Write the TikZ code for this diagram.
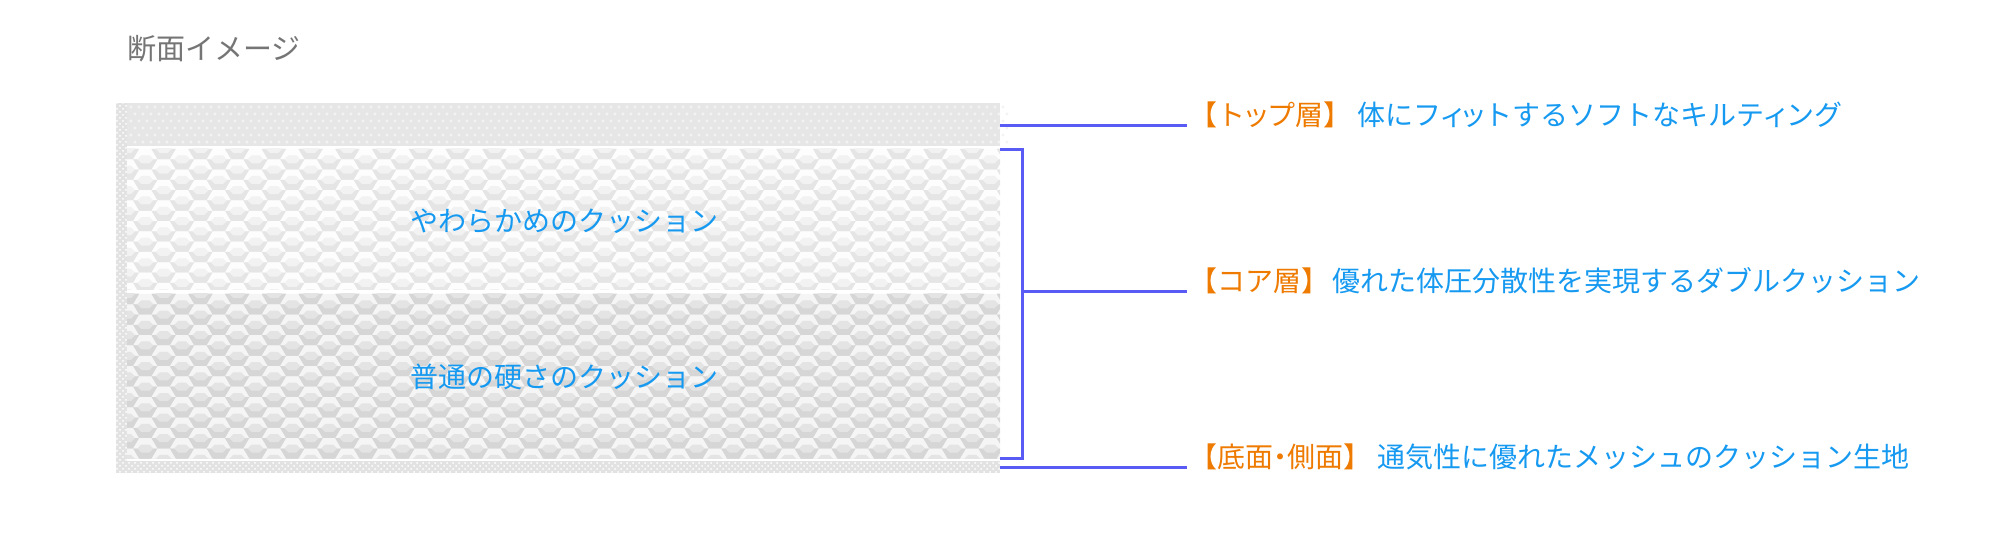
\documentclass[tikz,border=0pt]{standalone}
\usepackage{fontspec}
\newfontfamily\jp{Noto Sans CJK JP}
\newcommand\narrowkana[1]{{\addfontfeature{RawFeature=+palt}#1}}
\usetikzlibrary{positioning,patterns}

\definecolor{leadblue}{HTML}{5A5AF5}
\definecolor{tagorange}{HTML}{EE7A00}
\definecolor{noteblue}{HTML}{1699F0}
\definecolor{titlegray}{HTML}{757575}
\definecolor{topgray}{HTML}{E6E6E6}
\definecolor{topdot}{HTML}{F3F3F3}
\definecolor{meshgray}{HTML}{E2E2E2}
\definecolor{softhi}{HTML}{FDFDFD}
\definecolor{softlo}{HTML}{E5E5E5}
\definecolor{softmid}{HTML}{F2F2F2}
\definecolor{hardhi}{HTML}{F5F5F5}
\definecolor{hardlo}{HTML}{D6D6D6}
\definecolor{hardmid}{HTML}{E4E4E4}

% one pyramid cell of the quilting: x, y, light, dark, middle
\newcommand\quiltcell[5]{%
  \fill[#3] (#1-12.25,#2) -- (#1-6.12,#2-10.3) -- (#1+6.12,#2-10.3) -- (#1+12.25,#2) -- cycle;
  \fill[#4] (#1-12.25,#2) -- (#1-6.12,#2+10.3) -- (#1+6.12,#2+10.3) -- (#1+12.25,#2) -- cycle;
  \fill[#5] (#1-8,#2) -- (#1-4,#2-4) -- (#1+4,#2-4) -- (#1+8,#2)
    -- (#1+4,#2+4) -- (#1-4,#2+4) -- cycle;}

\begin{document}
\begin{tikzpicture}[x=0.5pt,y=-0.5pt,
    leader/.style={draw=leadblue,line width=1.5pt},
    note/.style={inner sep=0pt,text=noteblue,font=\jp\fontsize{14pt}{16pt}\selectfont},
    layertext/.style={inner sep=0pt,text=noteblue,font=\jp\fontsize{14pt}{16pt}\selectfont},
    titletext/.style={inner sep=0pt,text=titlegray,font=\jp\fontsize{14.5pt}{17pt}\selectfont}]
    \useasboundingbox (0,0) rectangle (2000,550);

    \node[titletext,anchor=west] (title) at (127,49) {断面イメージ};

    % mesh side and bottom
    \fill[meshgray] (116,103) rectangle (127,473);
    \fill[meshgray] (127,461) rectangle (1000,473);
    \fill[pattern=crosshatch dots,pattern color=white] (116,103) rectangle (127,473);
    \fill[pattern=crosshatch dots,pattern color=white] (127,461) rectangle (1000,473);

    % top quilting
    \fill[topgray] (127,103) rectangle (1000,146);
    \foreach \r in {0,...,5}
      \foreach \c in {0,...,109}{
        \pgfmathsetmacro\dx{131+\c*8+mod(\r,2)*4}
        \fill[topdot] (\dx,{107+\r*7}) circle[radius=1.6];
      }

    % soft core
    \begin{scope}
      \clip (127,149) rectangle (1000,290);
      \fill[softmid] (127,149) rectangle (1000,290);
      \foreach \i in {0,...,48}{
        \pgfmathsetmacro\cx{127+\i*18.375}
        \pgfmathsetmacro\cy{149+mod(\i,2)*10.3}
        \foreach \j in {0,...,7}
          \quiltcell{\cx}{\cy+\j*20.6}{softhi}{softlo}{softmid};
      }
    \end{scope}

    % firm core
    \begin{scope}
      \clip (127,294) rectangle (1000,458);
      \fill[hardmid] (127,294) rectangle (1000,458);
      \foreach \i in {0,...,48}{
        \pgfmathsetmacro\cx{127+\i*18.375}
        \pgfmathsetmacro\cy{294+mod(\i,2)*10.3}
        \foreach \j in {0,...,8}
          \quiltcell{\cx}{\cy+\j*20.6}{hardhi}{hardlo}{hardmid};
      }
    \end{scope}

    \node[layertext] (soft) at (564,221) {やわらかめのクッション};
    \node[layertext] (firm) at (564,377) {普通の硬さのクッション};

    % leaders
    \coordinate (topR) at (1000,126);
    \coordinate (topE) at (1187,126);
    \coordinate (coreT) at (1000,150);
    \coordinate (coreB) at (1000,458);
    \coordinate (brk) at (1022,292);
    \coordinate (coreE) at (1187,292);
    \coordinate (baseR) at (1000,467);
    \coordinate (baseE) at (1187,467);

    \node[note,base right=1pt of topE] (toplbl)
      {{\color{tagorange}【ト\narrowkana{ッ}プ層】}\hspace{0.2em}体にフ\narrowkana{ィ}\narrowkana{ッ}トするソフトなキルテ\narrowkana{ィ}ング};
    \node[note,base right=1pt of coreE] (corelbl)
      {{\color{tagorange}【コア層】}\hspace{0.1em}優れた体圧分散性を実現するダブルクッション};
    \node[note,base right=1pt of baseE] (baselbl)
      {{\color{tagorange}【底面\narrowkana{・}側面】}\hspace{0.2em}通気性に優れたメッシュのクッション生地};

    \draw[leader] (topR) -- (topE);
    \draw[leader] (coreT) -| (brk) |- (coreB);
    \draw[leader] (brk) -- (coreE);
    \draw[leader] (baseR) -- (baseE);
\end{tikzpicture}
\end{document}
